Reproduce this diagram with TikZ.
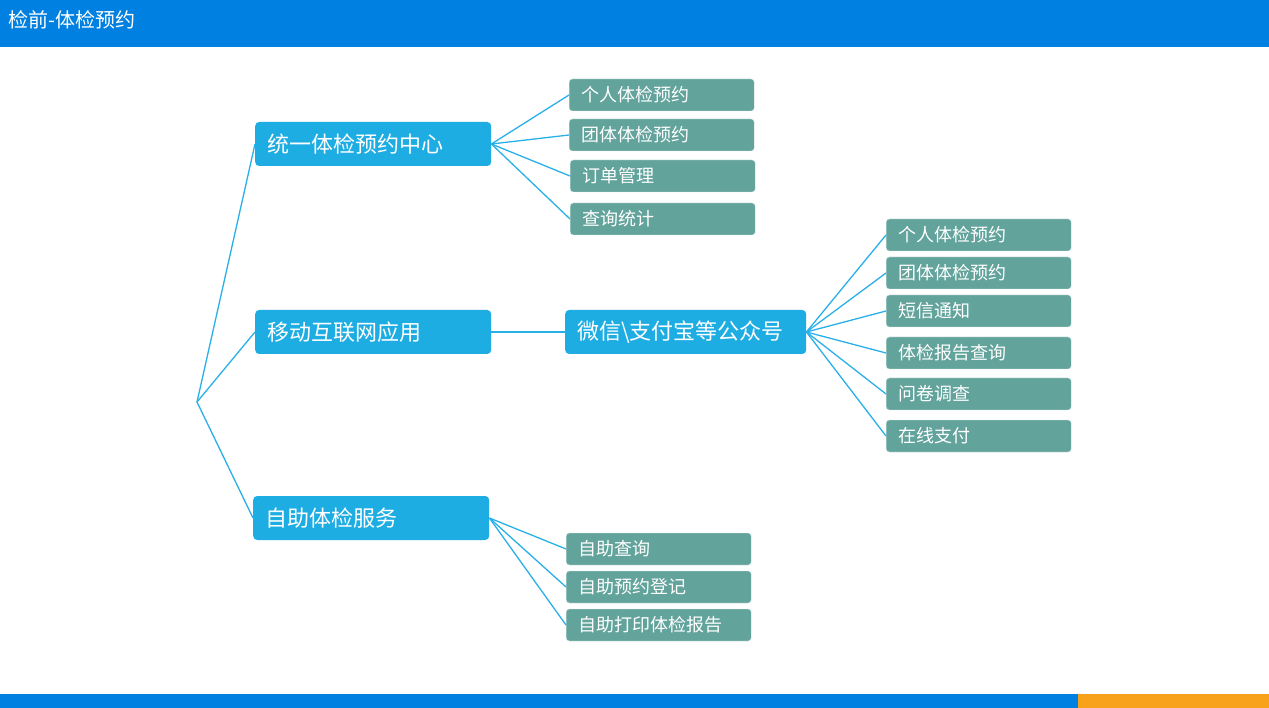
\documentclass[tikz,border=0pt]{standalone}
\usepackage{fontspec}
\setmainfont{Noto Sans CJK SC}
\usetikzlibrary{positioning}
\definecolor{barblue}{HTML}{0080E0}
\definecolor{barorange}{HTML}{F8A21C}
\definecolor{hubblue}{HTML}{1EADE3}
\definecolor{leafteal}{HTML}{62A39C}
\definecolor{linkblue}{HTML}{2AB0E8}

\begin{document}
\begin{tikzpicture}[x=1pt, y=-1pt,
    hub/.style={fill=hubblue, rounded corners=4pt, minimum width=236pt,
                minimum height=44pt, text=white, font=\fontsize{22}{24}\selectfont,
                anchor=west, inner xsep=12pt, text width=212pt},
    leaf/.style={fill=leafteal, draw=white!80!leafteal, rounded corners=3pt,
                 minimum width=185pt, minimum height=32pt, text=white,
                 font=\fontsize{18}{20}\selectfont, anchor=west,
                 inner xsep=12pt, text width=161pt},
    link/.style={linkblue, line width=1.3pt},
  ]
  % frame
  \useasboundingbox (0,0) rectangle (1269,708);
  \fill[white] (0,0) rectangle (1269,708);
  \fill[barblue] (0,0) rectangle (1269,47);
  \fill[barblue] (0,694) rectangle (1078,708);
  \fill[barorange] (1078,694) rectangle (1269,708);
  \node[anchor=west, text=white, font=\fontsize{20}{22}\selectfont, inner sep=0pt]
    (title) at (8,20) {检前-体检预约};

  \coordinate (root) at (197,402);

  % hubs
  \node[hub] (center) at (255,144) {统一体检预约中心};
  \node[hub] (mobile) at (255,332) {移动互联网应用};
  \node[hub] (self)   at (253,518) {自助体检服务};
  \node[hub, minimum width=241pt, text width=217pt] (wechat) at (565,332) {微信\textbackslash 支付宝等公众号};

  % leaves of the centre
  \node[leaf] (c1) at (569,95)  {个人体检预约};
  \node[leaf] (c2) at (569,135) {团体体检预约};
  \node[leaf] (c3) at (570,176) {订单管理};
  \node[leaf] (c4) at (570,219) {查询统计};

  % leaves of the public accounts
  \node[leaf] (w1) at (886,235) {个人体检预约};
  \node[leaf] (w2) at (886,273) {团体体检预约};
  \node[leaf] (w3) at (886,311) {短信通知};
  \node[leaf] (w4) at (886,353) {体检报告查询};
  \node[leaf] (w5) at (886,394) {问卷调查};
  \node[leaf] (w6) at (886,436) {在线支付};

  % leaves of self service
  \node[leaf] (s1) at (566,549) {自助查询};
  \node[leaf] (s2) at (566,587) {自助预约登记};
  \node[leaf] (s3) at (566,625) {自助打印体检报告};

  % links
  \foreach \h in {center,mobile,self}
    \draw[link] (root) -- (\h.west);
  \foreach \l in {c1,c2,c3,c4}
    \draw[link] (center.east) -- (\l.west);
  \draw[link] (mobile.east) -- (wechat.west);
  \foreach \l in {w1,w2,w3,w4,w5,w6}
    \draw[link] (wechat.east) -- (\l.west);
  \foreach \l in {s1,s2,s3}
    \draw[link] (self.east) -- (\l.west);
\end{tikzpicture}
\end{document}
